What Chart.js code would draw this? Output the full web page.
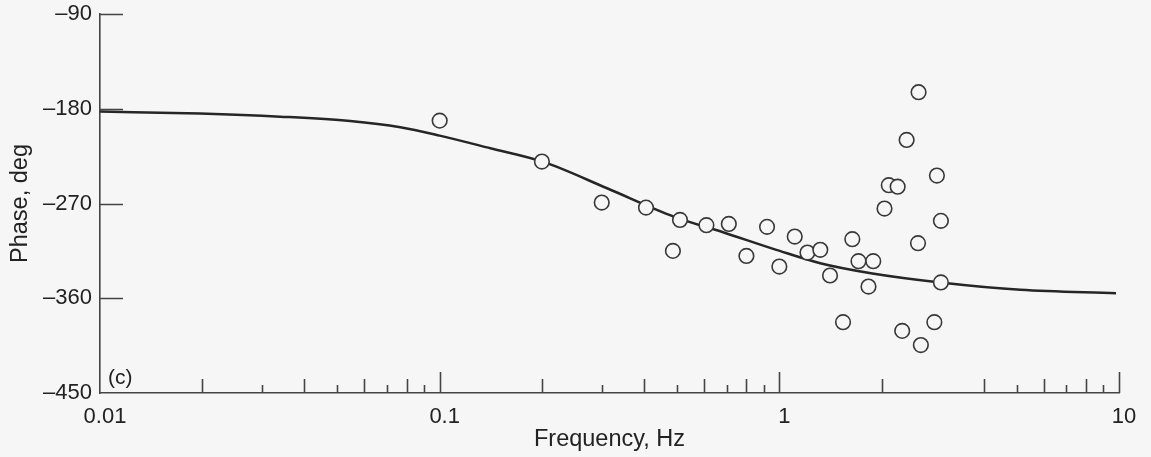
<!DOCTYPE html>
<html>
<head>
<meta charset="utf-8">
<script src="https://cdn.jsdelivr.net/npm/chart.js@4/dist/chart.umd.min.js"></script>
<style>
  body { margin: 0; background: #f6f6f6; }
  canvas { display: block; background: #f6f6f6; }
</style>
</head>
<body>
<canvas id="grafico" width="1151" height="457"></canvas>
<script>
// fitted curve
const curveFreq  = [0.01, 0.0197, 0.0339, 0.0545, 0.0766, 0.1, 0.141, 0.202, 0.311, 0.489, 0.686, 0.98, 1.32, 1.86, 2.98, 5.13, 9.8]
const curvePhase = [-182.7, -184.6, -187.5, -191.6, -197.5, -205.5, -217.5, -230.5, -255.5, -282.4, -297.5, -314, -326.7, -336.2, -345, -352, -355.2]

// measured points
const measFreq  = [0.1, 0.2, 0.3, 0.405, 0.486, 0.51, 0.61, 0.71, 0.8, 0.92, 1.0, 1.11, 1.21, 1.32, 1.41, 1.54, 1.64, 1.71, 1.83, 1.89, 2.04, 2.10, 2.23, 2.30, 2.37, 2.56, 2.57, 2.61, 2.86, 2.91, 2.99, 2.99]
const measPhase = [-191.3, -230.2, -269.1, -273.9, -315, -285.6, -290.6, -289.4, -319.8, -292.2, -329.9, -301.4, -316.6, -314, -338.4, -382.7, -303.9, -324.8, -348.9, -324.8, -274.8, -252.6, -254, -391, -209.6, -307.7, -164.3, -404.5, -382.7, -243.5, -286.5, -345]

// axes
const freqLabels = [0.01, 0.1, 1, 10]
const phaseTicks = [-450, -360, -270, -180, -90]
const minorLong  = [0.02, 0.04, 0.06, 0.08, 0.2, 0.4, 0.6, 0.8, 2, 4, 6, 8]
const minorShort = [0.03, 0.05, 0.07, 0.09, 0.3, 0.5, 0.7, 0.9, 5, 7, 9]
const panelLabel = '(c)'

const fonte = '"Liberation Sans", Arial, Helvetica, sans-serif'
const cinza = '#222'
const eixo = '#444'

const marcas = {
  id: 'marcas',
  afterDraw(chart) {
    const { ctx, chartArea, scales } = chart
    const x = scales.x, y = scales.y
    ctx.save()
    ctx.strokeStyle = eixo
    ctx.lineWidth = 1.6
    ctx.beginPath()
    const sobe = (v, len) => {
      const px = Math.round(x.getPixelForValue(v)) + 0.5
      ctx.moveTo(px, chartArea.bottom)
      ctx.lineTo(px, chartArea.bottom - len)
    }
    freqLabels.slice(1).forEach(v => sobe(v, 21))
    minorLong.forEach(v => sobe(v, 14))
    minorShort.forEach(v => sobe(v, 8))
    phaseTicks.forEach(v => {
      if (v === y.min) return
      const py = Math.round(y.getPixelForValue(v)) + 0.5
      ctx.moveTo(chartArea.left, py)
      ctx.lineTo(chartArea.left + 23, py)
    })
    ctx.stroke()
    ctx.fillStyle = cinza
    ctx.font = '21px ' + fonte
    ctx.textBaseline = 'alphabetic'
    ctx.fillText(panelLabel, chartArea.left + 8, chartArea.bottom - 9)
    ctx.restore()
  }
}

const pontos = measFreq.map((f, i) => ({ x: f, y: measPhase[i] }))
const curva = curveFreq.map((f, i) => ({ x: f, y: curvePhase[i] }))

new Chart(document.getElementById('grafico'), {
  type: 'scatter',
  data: {
    datasets: [{
      data: pontos,
      pointRadius: 7.3,
      pointBorderWidth: 1.6,
      borderColor: '#383838',
      backgroundColor: '#f6f6f6',
      showLine: false
    }, {
      data: curva,
      showLine: true,
      pointRadius: 0,
      borderWidth: 2.5,
      borderColor: '#262626',
      cubicInterpolationMode: 'monotone',
      fill: false
    }]
  },
  options: {
    responsive: false,
    animation: false,
    layout: { padding: { top: 14, right: 32, left: 0, bottom: 0 } },
    plugins: { legend: { display: false }, tooltip: { enabled: false } },
    scales: {
      x: {
        type: 'logarithmic',
        min: 0.01,
        max: 10,
        afterBuildTicks: s => { s.ticks = freqLabels.map(v => ({ value: v })) },
        afterFit: s => { s.height = 64 },
        grid: { display: false, drawTicks: false },
        border: { display: true, color: eixo, width: 1.6 },
        ticks: {
          color: cinza,
          font: { family: fonte, size: 22 },
          padding: 11,
          labelOffset: 5,
          maxRotation: 0,
          autoSkip: false,
          callback: v => String(v)
        },
        title: {
          display: true,
          text: 'Frequency, Hz',
          color: cinza,
          font: { family: fonte, size: 23.5 },
          padding: { top: 0, bottom: 3 }
        }
      },
      y: {
        min: -450,
        max: -90,
        afterBuildTicks: s => { s.ticks = phaseTicks.map(v => ({ value: v })) },
        afterFit: s => { s.width = 100; s.paddingTop = 0; s.paddingBottom = 0 },
        grid: { display: false, drawTicks: false },
        border: { display: true, color: eixo, width: 1.6 },
        ticks: {
          color: cinza,
          font: { family: fonte, size: 22 },
          padding: 8,
          callback: v => (v < 0 ? '\u2013' + Math.abs(v) : String(v))
        },
        title: {
          display: true,
          text: 'Phase, deg',
          color: cinza,
          font: { family: fonte, size: 23.5 },
          padding: { top: 6, bottom: 0 }
        }
      }
    }
  },
  plugins: [marcas]
})
</script>
</body>
</html>
